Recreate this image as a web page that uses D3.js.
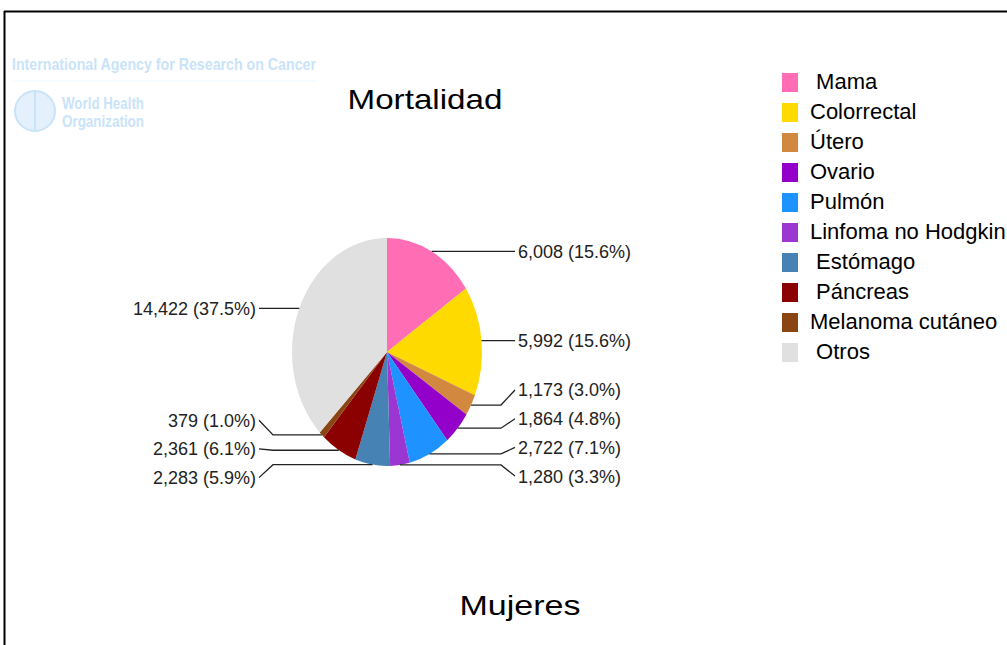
<!DOCTYPE html>
<html>
<head>
<meta charset="utf-8">
<script src="https://cdn.jsdelivr.net/npm/d3@7"></script>
<style>
    body { margin: 0; background: #fff; }
    svg { display: block; font-family: "Liberation Sans", Arial, sans-serif; }
</style>
</head>
<body>
<svg id="chart" width="1007" height="645"></svg>
<script>
// data
let categories = ["Mama", "Colorrectal", "Útero", "Ovario", "Pulmón", "Linfoma no Hodgkin", "Estómago", "Páncreas", "Melanoma cutáneo", "Otros"];
let legendLabels = [" Mama", "Colorrectal", "Útero", "Ovario", "Pulmón", "Linfoma no Hodgkin", " Estómago", " Páncreas", "Melanoma cutáneo", " Otros"];
let deaths = [6008, 5992, 1173, 1864, 2722, 1280, 2283, 2361, 379, 14422];
let colors = ["#ff6eb4", "#ffda00", "#d2893f", "#9300c9", "#1e93ff", "#9b36d2", "#4682b4", "#8b0000", "#8b4513", "#e0e0e0"];

let chartTitle = "Mortalidad";
let chartSubtitle = "Mujeres";

const svg = d3.select("#chart");
const total = d3.sum(deaths);

// frame (top and left edges only)
svg.append("line")
    .attr("x1", 4).attr("y1", 11.5).attr("x2", 1007).attr("y2", 11.5)
    .attr("stroke", "#000").attr("stroke-width", 2);
svg.append("line")
    .attr("x1", 4.5).attr("y1", 11).attr("x2", 4.5).attr("y2", 645)
    .attr("stroke", "#000").attr("stroke-width", 2);

// faded watermark
let wm = svg.append("g").attr("fill", "#c9e3f9");
wm.append("text")
    .attr("x", 12).attr("y", 70)
    .style("font-size", "17px").style("font-weight", "bold")
    .attr("textLength", 304).attr("lengthAdjust", "spacingAndGlyphs")
    .text("International Agency for Research on Cancer");
wm.append("line")
    .attr("x1", 12).attr("y1", 81).attr("x2", 316).attr("y2", 81)
    .attr("stroke", "#e3f1fc").attr("stroke-dasharray", "1,1");
wm.append("circle").attr("cx", 35).attr("cy", 111).attr("r", 20)
    .attr("fill", "#e4f1fc").attr("stroke", "#c9e3f9").attr("stroke-width", 2);
wm.append("line").attr("x1", 35).attr("y1", 92).attr("x2", 35).attr("y2", 131)
    .attr("stroke", "#c9e3f9").attr("stroke-width", 2);
wm.append("text").attr("x", 62).attr("y", 109)
    .style("font-size", "16px").style("font-weight", "bold")
    .attr("textLength", 82).attr("lengthAdjust", "spacingAndGlyphs")
    .text("World Health");
wm.append("text").attr("x", 62).attr("y", 127)
    .style("font-size", "16px").style("font-weight", "bold")
    .attr("textLength", 82).attr("lengthAdjust", "spacingAndGlyphs")
    .text("Organization");

// titles
svg.append("text")
    .attr("x", 425).attr("y", 109)
    .attr("text-anchor", "middle")
    .style("font-size", "28px")
    .attr("textLength", 155).attr("lengthAdjust", "spacingAndGlyphs")
    .text(chartTitle);
svg.append("text")
    .attr("x", 520).attr("y", 615)
    .attr("text-anchor", "middle")
    .style("font-size", "28px")
    .attr("textLength", 121).attr("lengthAdjust", "spacingAndGlyphs")
    .text(chartSubtitle);

// pie (stretched vertically like the original)
const cx = 387, cy = 352, rx = 95, ry = 114;
const pie = d3.pie().sort(null).value(d => d.value);
const slices = pie(categories.map((c, i) => ({ name: c, value: deaths[i], color: colors[i] })));
const arc = d3.arc().innerRadius(0).outerRadius(rx);

svg.append("g")
    .attr("transform", `translate(${cx},${cy}) scale(1,${ry / rx})`)
    .selectAll("path")
    .data(slices)
    .enter().append("path")
        .attr("d", arc)
        .attr("fill", d => d.data.color);

// labels: anchor on the ellipse edge at mid angle
let labels = slices.map(function(d) {
    let a = (d.startAngle + d.endAngle) / 2;
    let ax = cx + rx * Math.sin(a);
    let ay = cy - ry * Math.cos(a);
    return {
        slice: d,
        ax: ax, ay: ay,
        right: Math.sin(a) >= 0,
        y: ay,
        text: d3.format(",")(d.data.value) + " (" + (d.data.value / total * 100).toFixed(1) + "%)"
    };
});

// push overlapping labels apart, keeping clusters centred
function spread(list, gap, lift) {
    list.sort((a, b) => a.ay - b.ay);
    let groups = list.map(l => ({ items: [l], mean: l.ay }));
    let merged = true;
    while (merged) {
        merged = false;
        for (let i = 0; i < groups.length - 1; i++) {
            let g1 = groups[i], g2 = groups[i + 1];
            let end1 = g1.mean + (g1.items.length - 1) * gap / 2;
            let start2 = g2.mean - (g2.items.length - 1) * gap / 2;
            if (start2 - end1 < gap) {
                let items = g1.items.concat(g2.items);
                groups.splice(i, 2, { items: items, mean: d3.mean(items, l => l.ay) });
                merged = true;
                break;
            }
        }
    }
    groups.forEach(function(g) {
        let shift = g.items.length > 1 ? lift : 0;
        let top = g.mean - shift - (g.items.length - 1) * gap / 2;
        g.items.forEach((l, k) => l.y = top + k * gap);
    });
}
spread(labels.filter(l => l.right), 28.7, 5);
spread(labels.filter(l => !l.right), 28.7, 1);

let lab = svg.append("g");
lab.selectAll("path")
    .data(labels)
    .enter().append("path")
        .attr("fill", "none")
        .attr("stroke", "#222")
        .attr("stroke-width", 1.3)
        .attr("d", function(l) {
            let s = l.right ? 1 : -1;
            let elbowX = cx + s * 114;
            let endX = cx + s * 128;
            return "M" + l.ax + "," + l.ay + "L" + elbowX + "," + l.ay + "L" + endX + "," + l.y;
        });

lab.selectAll("text")
    .data(labels)
    .enter().append("text")
        .attr("x", l => l.right ? cx + 131 : cx - 131)
        .attr("y", l => l.y)
        .attr("dy", "0.36em")
        .attr("text-anchor", l => l.right ? "start" : "end")
        .attr("fill", "#222")
        .style("font-size", "18px")
        .text(l => l.text);

// legend
let legend = svg.append("g");
let rows = legend.selectAll("g")
    .data(categories)
    .enter().append("g")
        .attr("transform", (d, i) => `translate(782, ${73 + i * 30})`);
rows.append("rect")
    .attr("width", 16).attr("height", 19)
    .attr("fill", (d, i) => colors[i]);
rows.append("text")
    .attr("x", 28).attr("y", 16)
    .attr("xml:space", "preserve")
    .style("white-space", "pre")
    .style("font-size", "22px")
    .attr("fill", "#000")
    .text((d, i) => legendLabels[i]);
</script>
</body>
</html>
